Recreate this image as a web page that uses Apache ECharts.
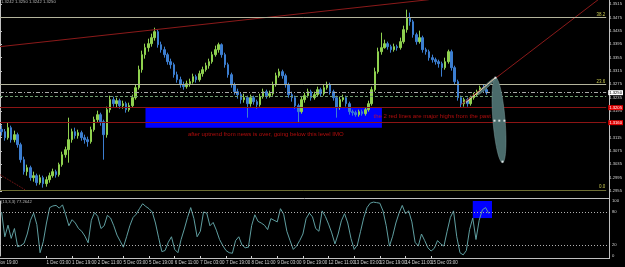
<!DOCTYPE html>
<html><head><meta charset="utf-8">
<script src="https://cdn.jsdelivr.net/npm/echarts@6/dist/echarts.min.js"></script>
<style>html,body{margin:0;padding:0;background:#000;}#c{width:625px;height:267px;}</style>
</head><body><div id="c"></div>
<script>
// ---- data ----
const opens = [1.3140,1.3133,1.3115,1.3145,1.3109,1.3124,1.3094,1.3049,1.3013,1.3025,
 1.2995,1.3001,1.2980,1.2995,1.2977,1.2989,1.3001,1.3013,1.3004,1.3034,
 1.3064,1.3079,1.3109,1.3133,1.3121,1.3130,1.3115,1.3109,1.3103,1.3139,
 1.3169,1.3184,1.3163,1.3124,1.3199,1.3229,1.3217,1.3226,1.3211,1.3217,
 1.3199,1.3211,1.3235,1.3265,1.3319,1.3364,1.3385,1.3397,1.3415,1.3433,
 1.3394,1.3379,1.3364,1.3343,1.3334,1.3304,1.3289,1.3274,1.3268,1.3277,
 1.3283,1.3298,1.3289,1.3307,1.3319,1.3331,1.3343,1.3364,1.3379,1.3394,
 1.3364,1.3334,1.3304,1.3274,1.3253,1.3244,1.3229,1.3235,1.3217,1.3235,
 1.3223,1.3214,1.3238,1.3253,1.3241,1.3247,1.3274,1.3301,1.3313,1.3301,
 1.3274,1.3244,1.3235,1.3211,1.3193,1.3229,1.3241,1.3253,1.3235,1.3244,
 1.3259,1.3247,1.3265,1.3274,1.3253,1.3235,1.3205,1.3229,1.3235,1.3217,
 1.3193,1.3190,1.3184,1.3193,1.3187,1.3199,1.3217,1.3259,1.3313,1.3373,
 1.3385,1.3397,1.3388,1.3379,1.3388,1.3385,1.3403,1.3439,1.3475,1.3463,
 1.3424,1.3403,1.3415,1.3379,1.3373,1.3355,1.3349,1.3343,1.3337,1.3325,
 1.3343,1.3373,1.3325,1.3283,1.3235,1.3217,1.3229,1.3217,1.3235,1.3244,
 1.3253,1.3265,1.3259];
const closes = [1.3133,1.3115,1.3145,1.3109,1.3124,1.3094,1.3049,1.3013,1.3025,1.2995,
 1.3001,1.2980,1.2995,1.2977,1.2989,1.3001,1.3013,1.3004,1.3034,1.3064,
 1.3079,1.3109,1.3133,1.3121,1.3130,1.3115,1.3109,1.3103,1.3139,1.3169,
 1.3184,1.3163,1.3124,1.3199,1.3229,1.3217,1.3226,1.3211,1.3217,1.3199,
 1.3211,1.3235,1.3265,1.3319,1.3364,1.3385,1.3397,1.3415,1.3433,1.3394,
 1.3379,1.3364,1.3343,1.3334,1.3304,1.3289,1.3274,1.3268,1.3277,1.3283,
 1.3298,1.3289,1.3307,1.3319,1.3331,1.3343,1.3364,1.3379,1.3394,1.3364,
 1.3334,1.3304,1.3274,1.3253,1.3244,1.3229,1.3235,1.3217,1.3235,1.3223,
 1.3214,1.3238,1.3253,1.3241,1.3247,1.3274,1.3301,1.3313,1.3301,1.3274,
 1.3244,1.3235,1.3211,1.3193,1.3229,1.3241,1.3253,1.3235,1.3244,1.3259,
 1.3247,1.3265,1.3274,1.3253,1.3235,1.3205,1.3229,1.3235,1.3217,1.3193,
 1.3190,1.3184,1.3193,1.3187,1.3199,1.3217,1.3259,1.3313,1.3373,1.3385,
 1.3397,1.3388,1.3379,1.3388,1.3385,1.3403,1.3439,1.3475,1.3463,1.3424,
 1.3403,1.3415,1.3379,1.3373,1.3355,1.3349,1.3343,1.3337,1.3325,1.3343,
 1.3373,1.3325,1.3283,1.3235,1.3217,1.3229,1.3217,1.3235,1.3244,1.3253,
 1.3265,1.3259,1.3250];
const lows = [1.3121,1.3106,1.3109,1.3100,1.3101,1.3085,1.3040,1.3004,1.3001,1.2986,
 1.2983,1.2971,1.2974,1.2965,1.2968,1.2980,1.2995,1.2995,1.2998,1.3028,
 1.3055,1.3040,1.3100,1.3112,1.3112,1.3106,1.3097,1.3088,1.3097,1.3133,
 1.3160,1.3151,1.3049,1.3115,1.3190,1.3208,1.3205,1.3202,1.3202,1.3190,
 1.3193,1.3205,1.3229,1.3259,1.3310,1.3352,1.3373,1.3388,1.3406,1.3385,
 1.3370,1.3355,1.3334,1.3322,1.3295,1.3280,1.3265,1.3259,1.3262,1.3268,
 1.3277,1.3280,1.3283,1.3298,1.3313,1.3322,1.3337,1.3358,1.3370,1.3355,
 1.3325,1.3295,1.3265,1.3244,1.3232,1.3217,1.3220,1.3175,1.3208,1.3214,
 1.3202,1.3208,1.3232,1.3232,1.3235,1.3241,1.3268,1.3295,1.3292,1.3265,
 1.3235,1.3223,1.3202,1.3160,1.3187,1.3220,1.3235,1.3226,1.3229,1.3238,
 1.3238,1.3241,1.3259,1.3244,1.3226,1.3175,1.3199,1.3223,1.3208,1.3184,
 1.3181,1.3178,1.3178,1.3181,1.3181,1.3193,1.3211,1.3253,1.3307,1.3364,
 1.3382,1.3379,1.3370,1.3373,1.3376,1.3379,1.3397,1.3430,1.3451,1.3415,
 1.3394,1.3397,1.3370,1.3364,1.3346,1.3340,1.3334,1.3325,1.3298,1.3319,
 1.3337,1.3316,1.3274,1.3226,1.3205,1.3208,1.3208,1.3211,1.3229,1.3238,
 1.3247,1.3253,1.3244];
const highs = [1.3152,1.3141,1.3160,1.3151,1.3136,1.3130,1.3100,1.3058,1.3034,1.3031,
 1.3013,1.3007,1.3004,1.3001,1.2998,1.3010,1.3022,1.3019,1.3040,1.3073,
 1.3088,1.3175,1.3142,1.3145,1.3139,1.3136,1.3124,1.3118,1.3148,1.3178,
 1.3196,1.3190,1.3169,1.3208,1.3241,1.3238,1.3235,1.3232,1.3226,1.3223,
 1.3220,1.3244,1.3274,1.3331,1.3376,1.3397,1.3412,1.3427,1.3445,1.3440,
 1.3403,1.3388,1.3370,1.3352,1.3340,1.3313,1.3298,1.3283,1.3286,1.3292,
 1.3307,1.3304,1.3316,1.3328,1.3340,1.3352,1.3373,1.3391,1.3400,1.3398,
 1.3370,1.3340,1.3310,1.3280,1.3262,1.3250,1.3247,1.3241,1.3244,1.3241,
 1.3229,1.3247,1.3262,1.3259,1.3256,1.3283,1.3310,1.3322,1.3319,1.3307,
 1.3280,1.3253,1.3241,1.3217,1.3238,1.3250,1.3262,1.3259,1.3253,1.3268,
 1.3265,1.3274,1.3283,1.3280,1.3259,1.3241,1.3238,1.3244,1.3241,1.3223,
 1.3199,1.3196,1.3199,1.3199,1.3205,1.3226,1.3268,1.3325,1.3385,1.3430,
 1.3409,1.3403,1.3394,1.3397,1.3394,1.3415,1.3451,1.3499,1.3490,1.3469,
 1.3430,1.3436,1.3421,1.3385,1.3379,1.3364,1.3355,1.3349,1.3343,1.3355,
 1.3379,1.3379,1.3331,1.3289,1.3241,1.3235,1.3235,1.3241,1.3250,1.3259,
 1.3271,1.3274,1.3268];
const stoch = [80,35,56,32,50,17,19,23,40,65,
 78,57,6,26,60,88,91,92,87,93,
 75,55,66,60,50,45,36,24,65,79,
 72,50,55,74,69,55,38,27,16,35,
 55,70,76,86,95,90,86,80,60,33,
 8,10,25,35,12,6,30,49,70,88,
 68,35,45,80,78,55,61,47,30,19,
 10,6,5,28,35,20,15,16,55,75,
 63,60,56,48,68,65,62,86,76,45,
 28,12,18,28,40,68,78,71,50,45,
 82,72,58,42,22,40,64,77,60,32,
 12,20,45,70,88,96,98,97,96,82,
 55,18,36,60,78,92,77,82,62,25,
 18,40,28,15,9,14,28,22,18,45,
 70,82,35,6,2,10,48,69,30,65,
 84,88,77.2642];
const timeLabels = ["30 Nov 11:00","1 Dec 03:00","1 Dec 19:00","2 Dec 11:00","5 Dec 03:00","5 Dec 19:00",
 "6 Dec 11:00","7 Dec 03:00","7 Dec 19:00","8 Dec 11:00","9 Dec 03:00","9 Dec 19:00",
 "12 Dec 11:00","13 Dec 03:00","13 Dec 19:00","14 Dec 11:00","15 Dec 03:00","15 Dec 19:00"];
const firstTimeLabel = "29 Nov 19:00";
const fibNames = ["38.2","23.6","0.0"];
const fibPrices = [1.3475,1.3274,1.2958];
const redLevels = [1.3205,1.3160];
const bidPrice = 1.3250;
const askPrice = 1.3238;
// annotation coordinates: [bar index, price]
const zoneBox = [[45.1,1.3205],[119.2,1.3145]];
const trendTop = [[-0.5,1.3388],[133.9,1.3529]];
const trendRise = [[144,1.3214],[187,1.3529]];
const trendLowLeft = [[-0.5,1.3004],[7.3,1.2959]];
const projLine = [[145.5,1.3220],[154.8,1.3295]];
const ellipses = [[154.8,1.3295,157.0,1.3040,1.9],[149.2,1.3244,154.8,1.3295,0.5]];
const projDots = [[154.8,1.3295],[157.0,1.3043],[154.5,1.3166],[156.0,1.3166],[157.6,1.3166]];
const notes = [[58.25,1.3124,"after uptrend from news is over, going below this level IMO"],
               [116.4,1.3178,"the 2 red lines are major highs from the past"]];
const stochLevels = [80,20];
const stochBox = [[147,100],[153,69]];
const ohlcText = "1.3242 1.3250 1.3242 1.3250";
const stochText = "(13,3,3) 77.2642";

// ---- chart ----
const N = 190, labelStart = 6, labelStep = 8;
const cats = Array.from({length:N},(_, i)=>String(i));
const candle = opens.map((o,i)=>[o, closes[i], lows[i], highs[i]]);
const sx = (pts)=>pts.map(p=>[p[0]+0.5].concat(p.slice(1)));   // bar index -> slot coordinate
const showLbl = (idx)=> idx>=labelStart && (idx-labelStart)%labelStep===0 && (idx-labelStart)/labelStep < timeLabels.length;
const FONT = 'Liberation Sans';
const AX = '#d0d0d0';

const hLine = (y,color,type,labelOpt)=>({yAxis:y,lineStyle:{color:color,type:type,width:1},
  label: labelOpt || {show:false}});
const fibLbl = (t)=>({show:true,position:'insideEndTop',formatter:t,color:'#c8c850',fontSize:4.5,fontFamily:FONT,distance:[1,0.5]});
const boxLbl = (t,bg,fg)=>({show:true,position:'end',formatter:t,color:fg,backgroundColor:bg,fontSize:4.2,fontFamily:FONT,padding:[1,1,0,1],distance:2});

const chart = echarts.init(document.getElementById('c'),null,{renderer:'canvas'});
chart.setOption({
  backgroundColor:'#000',
  animation:false,
  grid:[{left:0,right:16,top:0,height:191},{left:0,right:16,top:201,height:55}],
  xAxis:[
    {type:'category',gridIndex:0,data:cats,axisLine:{show:false},axisTick:{show:false},axisLabel:{show:false},splitLine:{show:false}},
    {type:'value',gridIndex:0,min:0,max:N,interval:10,show:false},
    {type:'category',gridIndex:1,data:cats,axisLine:{show:false},
      axisTick:{show:true,alignWithLabel:true,interval:showLbl,length:2,lineStyle:{color:AX}},
      axisLabel:{interval:showLbl,formatter:(v,idx)=>timeLabels[(idx-labelStart)/labelStep],color:AX,fontSize:4.5,fontFamily:FONT,align:'left',margin:4},
      splitLine:{show:false}},
    {type:'value',gridIndex:1,min:0,max:N,interval:10,show:false}
  ],
  yAxis:[
    {type:'value',gridIndex:0,position:'right',min:1.2955,max:1.3528,interval:0.004,
      axisLine:{show:true,lineStyle:{color:'#c0c0c0'}},axisTick:{show:true,length:2,lineStyle:{color:'#c0c0c0'}},
      axisLabel:{color:AX,fontSize:4.2,fontFamily:FONT,margin:3,showMaxLabel:false,formatter:v=>v.toFixed(4)},splitLine:{show:false}},
    {type:'value',gridIndex:1,position:'right',min:0,max:100,interval:20,
      axisLine:{show:true,lineStyle:{color:'#c0c0c0'}},axisTick:{show:false},
      axisLabel:{color:AX,fontSize:4.2,fontFamily:FONT,margin:3,formatter:v=>(v===0||v===20||v===80||v===100)?String(v):''},splitLine:{show:false}}
  ],
  graphic:[
    {type:'text',left:1,top:0,style:{text:ohlcText,fill:'#b8b8b8',font:'4.2px '+FONT}},
    {type:'text',left:1,top:200,style:{text:stochText,fill:'#b8b8b8',font:'4.2px '+FONT}},
    {type:'text',left:-9,top:260,style:{text:firstTimeLabel,fill:AX,font:'4.5px '+FONT}},
    {type:'line',shape:{x1:0,y1:198.5,x2:609,y2:198.5},style:{stroke:'#c0c0c0',lineWidth:1}},
    {type:'line',shape:{x1:0,y1:258.5,x2:609,y2:258.5},style:{stroke:'#c0c0c0',lineWidth:1}},
    {type:'line',shape:{x1:609.5,y1:0,x2:609.5,y2:259},style:{stroke:'#c0c0c0',lineWidth:1}}
  ],
  series:[
    {type:'line',xAxisIndex:1,yAxisIndex:0,data:[],silent:true,z:1,
      markArea:{silent:true,itemStyle:{color:'#0000ff'},data:[[{coord:sx(zoneBox)[0]},{coord:sx(zoneBox)[1]}]]},
      markLine:{silent:true,symbol:'none',precision:5,animation:false,data:[
        hLine(fibPrices[0],'#b4b49c','solid',fibLbl(fibNames[0])),
        hLine(fibPrices[1],'#b4b49c','solid',fibLbl(fibNames[1])),
        hLine(fibPrices[2],'#6e6e34','solid',fibLbl(fibNames[2])),
        hLine(redLevels[0],'#8c1414','solid',boxLbl(redLevels[0].toFixed(4),'#e00000','#fff')),
        hLine(redLevels[1],'#8c1414','solid',boxLbl(redLevels[1].toFixed(4),'#e00000','#fff')),
        hLine(bidPrice,'#a8a8a8',[4,2,1,2],boxLbl(bidPrice.toFixed(4),'#ffffff','#000')),
        hLine(askPrice,'#6e9a6e',[3,2],null)
      ]}},
    {type:'candlestick',xAxisIndex:0,yAxisIndex:0,data:candle,barWidth:2,z:3,
      itemStyle:{color:'#8fd14f',color0:'#3c7ed0',borderColor:'#8fd14f',borderColor0:'#3c7ed0',borderWidth:1}},
    {type:'line',xAxisIndex:1,yAxisIndex:0,data:sx(trendTop),symbol:'none',z:4,lineStyle:{color:'#8b1a1a',width:1}},
    {type:'line',xAxisIndex:1,yAxisIndex:0,data:sx(trendRise),symbol:'none',z:4,lineStyle:{color:'#8b1a1a',width:1}},
    {type:'line',xAxisIndex:1,yAxisIndex:0,data:sx(trendLowLeft),symbol:'none',z:4,lineStyle:{color:'#8b1a1a',width:1,type:'dotted'}},
    {type:'custom',xAxisIndex:1,yAxisIndex:0,data:ellipses.map(e=>[e[0]+0.5,e[1],e[2]+0.5,e[3],e[4]]),z:5,
      renderItem:(params,api)=>{
        const a=api.coord([api.value(0),api.value(1)]), b=api.coord([api.value(2),api.value(3)]);
        const hw=api.size([api.value(4),0])[0];
        const cx=(a[0]+b[0])/2, cy=(a[1]+b[1])/2;
        const dx=b[0]-a[0], dy=b[1]-a[1], L=Math.sqrt(dx*dx+dy*dy)/2;
        const ux=dx/(2*L), uy=dy/(2*L);
        const pts=[];
        for(let k=0;k<48;k++){const t=k/48*Math.PI*2; const u=Math.cos(t)*L, v=Math.sin(t)*hw;
          pts.push([cx+u*ux - v*uy, cy+u*uy + v*ux]);}
        return {type:'polygon',shape:{points:pts},style:{fill:'#4a6b6b',stroke:'#7a9a9a',lineWidth:0.5}};
      }},
    {type:'line',xAxisIndex:1,yAxisIndex:0,data:sx(projLine),symbol:'none',z:6,lineStyle:{color:'#e8c8a8',width:1}},
    {type:'scatter',xAxisIndex:1,yAxisIndex:0,data:sx(projDots),symbol:'rect',symbolSize:2,z:7,itemStyle:{color:'#ffffff'}},
    {type:'scatter',xAxisIndex:1,yAxisIndex:0,data:sx(notes),symbolSize:1,z:8,itemStyle:{color:'rgba(0,0,0,0)'},
      label:{show:true,position:'right',distance:0,formatter:p=>p.value[2],color:'#e01010',fontSize:6,fontFamily:FONT}},
    {type:'line',xAxisIndex:3,yAxisIndex:1,data:[],z:1,
      markArea:{silent:true,itemStyle:{color:'#0000ff'},data:[[{coord:sx(stochBox)[0]},{coord:sx(stochBox)[1]}]]},
      markLine:{silent:true,symbol:'none',precision:2,data:stochLevels.map(v=>({yAxis:v,lineStyle:{color:'#b0b0b0',type:[1,2],width:1},label:{show:false}}))}},
    {type:'line',xAxisIndex:2,yAxisIndex:1,data:stoch,symbol:'none',z:3,lineStyle:{color:'#5f9ea0',width:1}}
  ]
});
</script></body></html>
